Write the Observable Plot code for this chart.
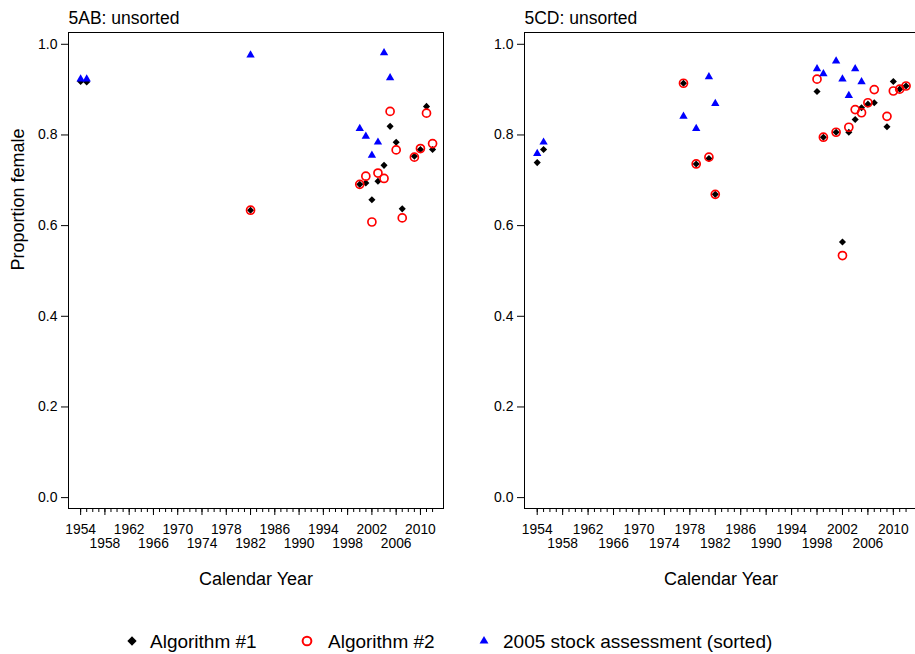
<!DOCTYPE html>
<html>
<head>
<meta charset="utf-8">
<script src="https://cdn.jsdelivr.net/npm/d3@7"></script>
<script src="https://cdn.jsdelivr.net/npm/@observablehq/plot@0.6"></script>
<style>
html, body { margin: 0; padding: 0; background: #fff; overflow: hidden; }
#wrap { position: relative; width: 915px; height: 654px; overflow: hidden; font-family: "Liberation Sans", Arial, sans-serif; }
.panel { position: absolute; top: 0; }
.panel svg { max-width: none !important; }
#legend { position: absolute; left: 0; top: 626px; width: 915px; height: 30px; }
</style>
</head>
<body>
<div id="wrap">
  <div id="left" class="panel" style="left:0px;width:460px"></div>
  <div id="right" class="panel" style="left:460px;width:470px"></div>
  <div id="legend"></div>
</div>
<script>
// ---------- data ----------
const panelTitles = ["5AB: unsorted", "5CD: unsorted"];
const seriesNames = ["Algorithm #1", "Algorithm #2", "2005 stock assessment (sorted)"];

// 5AB
const ab_alg1_years = [1954, 1955, 1982, 2000, 2001, 2002, 2003, 2004, 2005, 2006, 2007, 2009, 2010, 2011, 2012];
const ab_alg1_vals  = [0.918, 0.917, 0.634, 0.691, 0.694, 0.657, 0.698, 0.733, 0.819, 0.784, 0.637, 0.753, 0.768, 0.863, 0.768];
const ab_alg2_years = [1982, 2000, 2001, 2002, 2003, 2004, 2005, 2006, 2007, 2009, 2010, 2011, 2012];
const ab_alg2_vals  = [0.634, 0.691, 0.709, 0.608, 0.716, 0.704, 0.852, 0.767, 0.617, 0.751, 0.770, 0.848, 0.781];
const ab_sa_years   = [1954, 1955, 1982, 2000, 2001, 2002, 2003, 2004, 2005];
const ab_sa_vals    = [0.923, 0.923, 0.976, 0.814, 0.797, 0.755, 0.784, 0.981, 0.926];

// 5CD
const cd_alg1_years = [1954, 1955, 1977, 1979, 1981, 1982, 1998, 1999, 2001, 2002, 2003, 2004, 2005, 2006, 2007, 2009, 2010, 2011, 2012];
const cd_alg1_vals  = [0.739, 0.768, 0.914, 0.736, 0.748, 0.669, 0.896, 0.795, 0.806, 0.564, 0.806, 0.834, 0.860, 0.868, 0.871, 0.818, 0.918, 0.901, 0.908];
const cd_alg2_years = [1977, 1979, 1981, 1982, 1998, 1999, 2001, 2002, 2003, 2004, 2005, 2006, 2007, 2009, 2010, 2011, 2012];
const cd_alg2_vals  = [0.914, 0.736, 0.751, 0.669, 0.923, 0.795, 0.806, 0.534, 0.817, 0.856, 0.849, 0.871, 0.900, 0.841, 0.897, 0.901, 0.908];
const cd_sa_years   = [1954, 1955, 1977, 1979, 1981, 1982, 1998, 1999, 2001, 2002, 2003, 2004, 2005];
const cd_sa_vals    = [0.759, 0.784, 0.841, 0.814, 0.928, 0.869, 0.946, 0.935, 0.963, 0.923, 0.887, 0.946, 0.917];

// ticks
const yTicks = [0, 0.2, 0.4, 0.6, 0.8, 1.0];
const xLabelsRow1 = [1954, 1962, 1970, 1978, 1986, 1994, 2002, 2010];
const xLabelsRow2 = [1958, 1966, 1974, 1982, 1990, 1998, 2006];
const xMajorTicks = [1954, 1958, 1962, 1966, 1970, 1974, 1978, 1982, 1986, 1990, 1994, 1998, 2002, 2006, 2010];
const xMinorTicks = d3.range(1954, 2013);

const xLabel = "Calendar Year";
const yLabel = "Proportion female";

// ---------- helpers ----------
const zip = (xs, ys) => xs.map((x, i) => ({year: x, value: ys[i]}));
const FONT = '"Liberation Sans", Arial, sans-serif';

function panel({title, alg1, alg2, sa, width, marginLeft, marginRight, showYLabel}) {
  const marks = [
    Plot.frame({stroke: "black", strokeWidth: 1}),
    Plot.axisY({ticks: yTicks, tickFormat: d => d.toFixed(1), tickSize: 7, tickPadding: 4, fontSize: 14, label: null}),
    Plot.axisX({ticks: xMinorTicks, tickSize: 4, tickFormat: () => "", label: null}),
    Plot.axisX({ticks: xMajorTicks, tickSize: 7, tickFormat: () => "", label: null}),
    Plot.axisX({ticks: xLabelsRow1, tickSize: 0, tickPadding: 16, tickFormat: d => String(d), fontSize: 13.8, label: null}),
    Plot.axisX({ticks: xLabelsRow2, tickSize: 0, tickPadding: 30, tickFormat: d => String(d), fontSize: 13.8, label: null}),
    Plot.text([xLabel], {frameAnchor: "bottom", lineAnchor: "middle", dy: 71, fontSize: 18, fill: "black"}),
    Plot.text([title], {frameAnchor: "top-left", lineAnchor: "middle", dy: -14, textAnchor: "start", fontSize: 17.5, fill: "black"}),
    Plot.dot(alg1, {x: "year", y: "value", symbol: "diamond2", r: 3.2, fill: "black", stroke: "none"}),
    Plot.dot(alg2, {x: "year", y: "value", symbol: "circle", r: 4, fill: "none", stroke: "#ff0000", strokeWidth: 1.7}),
    Plot.dot(sa, {x: "year", y: "value", symbol: "triangle", r: 3.1, fill: "#0000ff", stroke: "none"})
  ];
  if (showYLabel) {
    marks.push(Plot.text([yLabel], {frameAnchor: "left", lineAnchor: "middle", dx: -50, rotate: -90, fontSize: 18, fill: "black"}));
  }
  return Plot.plot({
    width, height: 600,
    marginTop: 32, marginBottom: 92, marginLeft, marginRight,
    style: {fontFamily: FONT, color: "black", background: "white", overflow: "visible", maxWidth: "none"},
    x: {domain: [1952, 2013.8], axis: null},
    y: {domain: [-0.024, 1.026], axis: null},
    marks
  });
}

document.getElementById("left").appendChild(panel({
  title: panelTitles[0],
  alg1: zip(ab_alg1_years, ab_alg1_vals),
  alg2: zip(ab_alg2_years, ab_alg2_vals),
  sa: zip(ab_sa_years, ab_sa_vals),
  width: 460, marginLeft: 68, marginRight: 17, showYLabel: true
}));

document.getElementById("right").appendChild(panel({
  title: panelTitles[1],
  alg1: zip(cd_alg1_years, cd_alg1_vals),
  alg2: zip(cd_alg2_years, cd_alg2_vals),
  sa: zip(cd_sa_years, cd_sa_vals),
  width: 470, marginLeft: 64, marginRight: 13, showYLabel: false
}));

// ---------- legend ----------
const legendSpecs = [
  {name: seriesNames[0], sx: 132, tx: 150, sym: d3.symbolDiamond2, size: 55, fill: "black", stroke: "none", sw: 0},
  {name: seriesNames[1], sx: 307, tx: 328, sym: d3.symbolCircle, size: 60, fill: "none", stroke: "#ff0000", sw: 2},
  {name: seriesNames[2], sx: 484, tx: 503, sym: d3.symbolTriangle, size: 34, fill: "#0000ff", stroke: "none", sw: 0}
];
const leg = d3.select("#legend");
const lsvg = leg.append("svg").attr("width", 915).attr("height", 30).style("position", "absolute").style("left", 0).style("top", 0);
legendSpecs.forEach(s => {
  lsvg.append("path")
    .attr("d", d3.symbol(s.sym, s.size)())
    .attr("transform", `translate(${s.sx},15)`)
    .attr("fill", s.fill).attr("stroke", s.stroke).attr("stroke-width", s.sw);
  lsvg.append("text")
    .attr("x", s.tx).attr("y", 15).attr("dy", "0.35em")
    .attr("font-family", FONT).attr("font-size", 19).attr("fill", "black")
    .text(s.name);
});
</script>
</body>
</html>
